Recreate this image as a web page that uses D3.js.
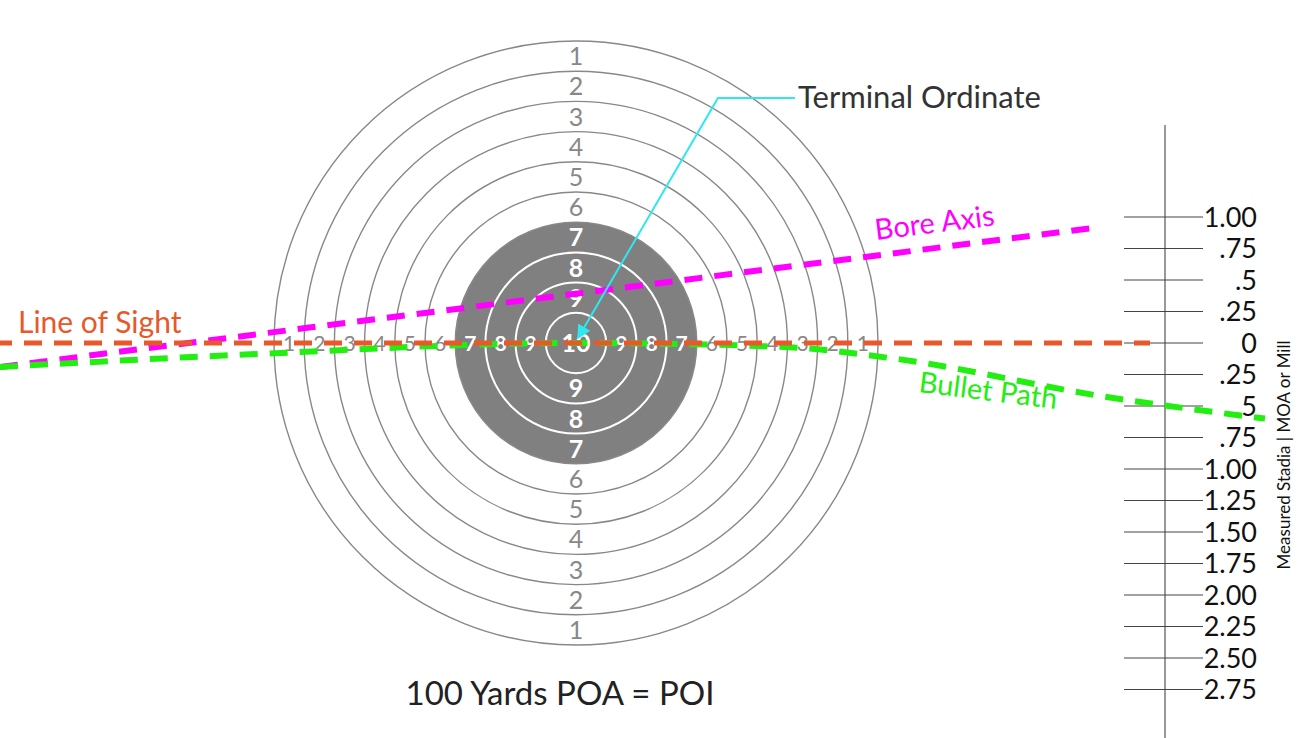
<!DOCTYPE html>
<html><head><meta charset="utf-8">
<script src="https://d3js.org/d3.v7.min.js"></script>
<style>body{margin:0;background:#fff}text{font-family:Lato,"Open Sans",sans-serif}</style>
</head><body><div class="container"></div>
<script>
var rings = [1, 2, 3, 4, 5, 6, 7, 8, 9, 10];
var scaleLabels = ['1.00', '.75', '.5', '.25', '0', '.25', '.5', '.75', '1.00', '1.25', '1.50', '1.75', '2.00', '2.25', '2.50', '2.75'];
var scaleValues = [1, 0.75, 0.5, 0.25, 0, -0.25, -0.5, -0.75, -1, -1.25, -1.5, -1.75, -2, -2.25, -2.5, -2.75];
var lineOfSight = [{x: 0, y: 0}, {x: 1150, y: 0}];
var boreAxis = [{x: 0, y: -0.19}, {x: 1090, y: 0.91}];
var bulletPath = [{x: 0, y: -0.19}, {x: 250, y: -0.09}, {x: 576, y: 0}, {x: 780, y: -0.03}, {x: 900, y: -0.13}, {x: 1100, y: -0.42}, {x: 1265, y: -0.6}];

var W = 1315, H = 738, CX = 576, CY = 343;
var svg = d3.select('.container').append('svg').attr('width', W).attr('height', H);

// ring radius: ring k boundary
var rScale = d3.scaleLinear().domain([0, 10]).range([0, 302]);
// vertical scale in MOA
var yScale = d3.scaleLinear().domain([0, 1]).range([CY, CY - 126]);
var xScale = d3.scaleLinear().domain([0, 1]).range([0, 1]);

var target = svg.append('g').attr('transform', 'translate(' + CX + ',' + CY + ')');
target.append('circle').attr('r', rScale(4)).attr('fill', '#808080');
target.selectAll('circle.ring').data(rings).enter().append('circle')
    .attr('class', 'ring')
    .attr('r', function (d) { return rScale(11 - d); })
    .attr('fill', 'none')
    .attr('stroke', function (d) { return d >= 8 ? '#fff' : '#888'; })
    .attr('stroke-width', function (d) { return d >= 8 ? 2 : 1.4; });

var labelFill = function (d) { return d >= 7 ? '#fff' : '#888'; };
var pos = function (d) { return rScale(11 - d) - rScale(0.5); };
rings.forEach(function (d) {
    var pts = d === 10 ? [[0, 0]] : [[0, -1], [0, 1], [-1, 0], [1, 0]];
    pts.forEach(function (p) {
        target.append('text')
            .attr('x', p[0] * pos(d)).attr('y', p[1] * pos(d))
            .attr('dy', '0.36em').attr('text-anchor', 'middle')
            .attr('font-size', p[0] !== 0 ? 21 : 25)
            .attr('fill', labelFill(d)).attr('font-weight', d >= 7 ? 'bold' : 'normal')
            .text(d);
    });
});

// right scale
svg.append('line').attr('x1', 1165).attr('x2', 1165).attr('y1', 125).attr('y2', H).attr('stroke', '#333').attr('stroke-width', 1);
var sc = svg.append('g');
sc.selectAll('line').data(scaleValues).enter().append('line')
    .attr('x1', 1124).attr('x2', 1203)
    .attr('y1', function (d) { return yScale(d); }).attr('y2', function (d) { return yScale(d); })
    .attr('stroke', '#444').attr('stroke-width', 1);
sc.selectAll('text').data(scaleLabels).enter().append('text')
    .attr('x', 1257).attr('y', function (d, i) { return yScale(scaleValues[i]); })
    .attr('dy', '0.36em').attr('text-anchor', 'end').attr('font-size', 27).attr('fill', '#111')
    .text(function (d) { return d; });
svg.append('text').attr('transform', 'translate(1290,455) rotate(-90)')
    .attr('text-anchor', 'middle').attr('font-size', 17).attr('fill', '#111')
    .text('Measured Stadia | MOA or Mill');

// lines
var line = d3.line().x(function (d) { return xScale(d.x); }).y(function (d) { return yScale(d.y); });
var curve = d3.line().curve(d3.curveMonotoneX).x(function (d) { return xScale(d.x); }).y(function (d) { return yScale(d.y); });
svg.append('path').datum(boreAxis).attr('d', line).attr('stroke', '#f0f').attr('stroke-width', 6).attr('stroke-dasharray', '18 12').attr('fill', 'none');
svg.append('path').datum(bulletPath).attr('d', curve).attr('stroke', '#22ee11').attr('stroke-width', 6).attr('stroke-dasharray', '18 12').attr('fill', 'none');
svg.append('path').datum(lineOfSight).attr('d', line).attr('stroke', '#e8582a').attr('stroke-width', 5).attr('stroke-dasharray', '18 12').attr('stroke-dashoffset', 6).attr('fill', 'none');

// labels
svg.append('text').attr('x', 18).attr('y', 333).attr('font-size', 30).attr('fill', '#e8582a').text('Line of Sight');
svg.append('text').attr('x', 876).attr('y', 240).attr('font-size', 29).attr('fill', '#f0f')
    .attr('transform', 'rotate(-7,876,240)').text('Bore Axis');
svg.append('text').attr('x', 918).attr('y', 392).attr('font-size', 29).attr('fill', '#22ee11')
    .attr('transform', 'rotate(7,918,392)').text('Bullet Path');
svg.append('text').attr('x', 798).attr('y', 108).attr('font-size', 31).attr('fill', '#333').text('Terminal Ordinate');
svg.append('text').attr('x', 560).attr('y', 705).attr('text-anchor', 'middle').attr('font-size', 33).attr('fill', '#222').text('100 Yards POA = POI');

// arrow
svg.append('defs').append('marker').attr('id', 'ah').attr('viewBox', '0 0 10 10').attr('refX', 9).attr('refY', 5)
    .attr('markerWidth', 7).attr('markerHeight', 7).attr('orient', 'auto')
    .append('path').attr('d', 'M0,0L10,5L0,10z').attr('fill', '#2ee8ee');
svg.append('path').attr('d', 'M795,98L718,98L578,338').attr('fill', 'none').attr('stroke', '#2ee8ee').attr('stroke-width', 2).attr('marker-end', 'url(#ah)');
</script></body></html>
